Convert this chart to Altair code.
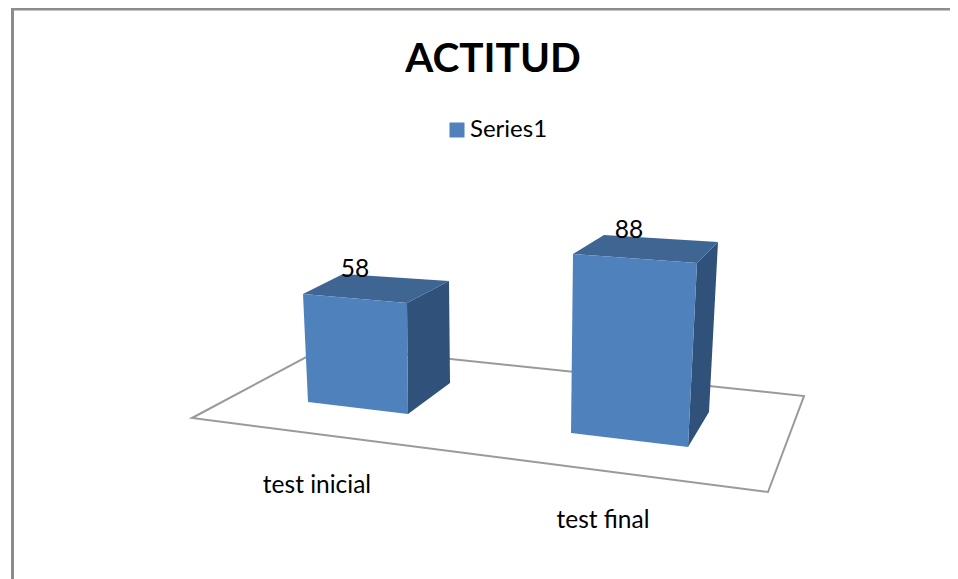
import altair as alt

# --- chart values ---
TITLE = "ACTITUD"
SERIES = "Series1"
CATEGORIES = ["test inicial", "test final"]
VALUES = [58, 88]

# --- 3D scene (page pixels) ---
OX, OY = 8, 8  # page margin
FRONT, TOP, SIDE = "#4F81BD", "#3F6693", "#305179"
FRAME = "#8C8C8C"
FLOOR_LINE = "#9A9A9A"
FONT = "Lato"
FLOOR = [(192, 418), (327, 346), (804, 396), (768, 492)]
# base corners per bar: front-left, front-right, back-right, back-left
BASES = [
    [(308, 402), (408, 414), (450, 383), (343, 372)],
    [(571, 433), (688, 447), (709, 412), (604, 400)],
]
# pixels per value unit at each corner
GAINS = [
    [1.862, 1.914, 1.759, 1.690],
    [2.034, 2.090, 1.932, 1.875],
]
# horizontal lean of the top corners relative to the base
LEANS = [
    [-5, -1, -1, 0],
    [2, 9, 9, 0],
]
LABEL_POS = [(355, 270), (629, 231)]
CAT_POS = [(317, 486), (603, 521)]


def p(pt):
    return [pt[0] - OX, pt[1] - OY]


def feature(points, **props):
    ring = [p(q) for q in points]
    ring.append(ring[0])
    return {"type": "Feature", "properties": props,
            "geometry": {"type": "Polygon", "coordinates": [ring]}}


def line_feature(points):
    return {"type": "Feature", "properties": {},
            "geometry": {"type": "LineString", "coordinates": [p(q) for q in points]}}


def geo(features):
    return alt.InlineData(values={"type": "FeatureCollection", "features": features},
                          format=alt.DataFormat(property="features", type="json"))


fronts, tops, sides = [], [], []
for base, gain, lean, value in zip(BASES, GAINS, LEANS, VALUES):
    up = [(b[0] + l, b[1] - g * value) for b, g, l in zip(base, gain, lean)]
    fronts.append(feature([up[0], up[1], base[1], base[0]], series=SERIES))
    tops.append(feature([up[0], up[1], up[2], up[3]]))
    sides.append(feature([up[1], up[2], base[2], base[1]]))

PROJ = dict(type="identity", scale=1, translate=[0, 0])

frame = (alt.Chart(geo([line_feature([(14, 9), (958, 9)]),
                        line_feature([(12.5, 8), (12.5, 579)])]))
         .mark_geoshape(filled=False, stroke=FRAME, strokeWidth=3)
         .project(**PROJ))
floor = (alt.Chart(geo([feature(FLOOR)]))
         .mark_geoshape(fill="#FFFFFF", stroke=FLOOR_LINE, strokeWidth=2)
         .project(**PROJ))
side = alt.Chart(geo(sides)).mark_geoshape(fill=SIDE, strokeWidth=0).project(**PROJ)
top = alt.Chart(geo(tops)).mark_geoshape(fill=TOP, strokeWidth=0).project(**PROJ)
front = (alt.Chart(geo(fronts))
         .mark_geoshape(strokeWidth=0)
         .encode(fill=alt.Fill(
             "properties.series:N",
             scale=alt.Scale(domain=[SERIES], range=[FRONT]),
             legend=alt.Legend(orient="none", legendX=437, legendY=110, title=None,
                               symbolType="square", symbolSize=225, symbolStrokeWidth=0,
                               symbolOpacity=1,
                               labelFont=FONT, labelFontSize=24, labelColor="#000000",
                               labelOffset=1)))
         .project(**PROJ))

label_rows = [{"t": str(v), "lon": x - OX, "lat": y - OY}
              for v, (x, y) in zip(VALUES, LABEL_POS)]
cat_rows = [{"t": c, "lon": x - OX, "lat": y - OY}
            for c, (x, y) in zip(CATEGORIES, CAT_POS)]

texts = (alt.Chart(alt.Data(values=label_rows + cat_rows))
         .mark_text(font=FONT, fontSize=24.5, color="#000000", align="center", baseline="middle")
         .encode(longitude="lon:Q", latitude="lat:Q", text="t:N")
         .project(**PROJ))

chart = (alt.layer(frame, floor, side, top, front, texts)
         .properties(width=942, height=571, padding=0,
                     autosize=alt.AutoSizeParams(type="none"),
                     title=alt.TitleParams(TITLE, font=FONT, fontSize=40.5, fontWeight="bold",
                                           color="#000000", anchor="middle", frame="group",
                                           offset=-66, dx=14, dy=38, baseline="alphabetic"))
         .configure_view(stroke=None)
         .configure(background="#FFFFFF"))

chart.save("out.html", embed_options={"renderer": "svg", "actions": False})
